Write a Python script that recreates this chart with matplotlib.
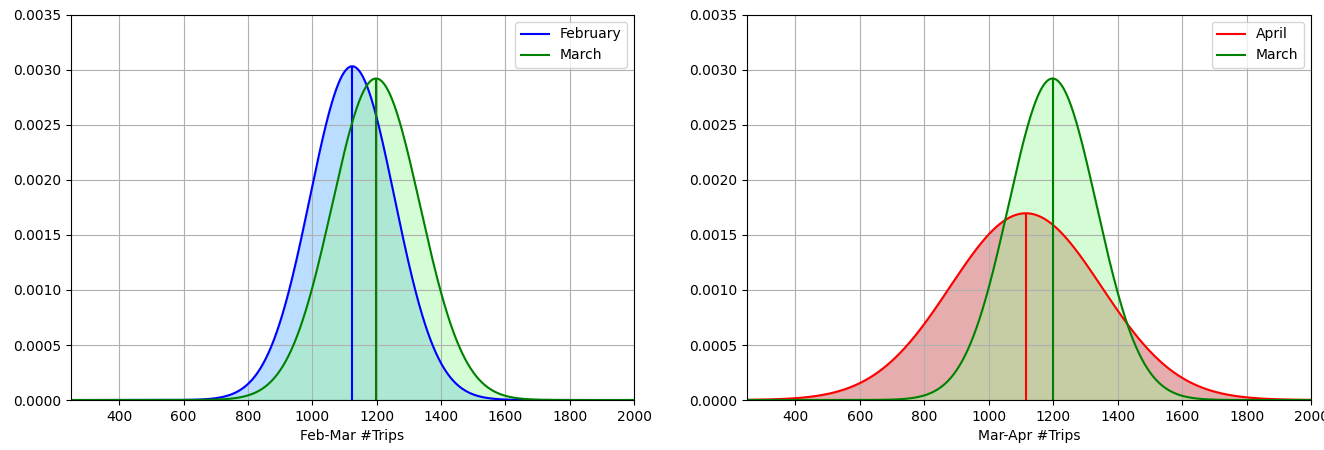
import numpy as np
import matplotlib.pyplot as plt

# estimated normal fits (mean, std) of trips per month
feb_mean, feb_std = 1124, 131.5
mar_mean, mar_std = 1198, 136.5
apr_mean, apr_std = 1115, 235.0

x_ticks = [400, 600, 800, 1000, 1200, 1400, 1600, 1800, 2000]
y_ticks = [0.0, 0.0005, 0.0010, 0.0015, 0.0020, 0.0025, 0.0030, 0.0035]


def pdf(x, mu, sd):
    return np.exp(-0.5 * ((x - mu) / sd) ** 2) / (sd * np.sqrt(2 * np.pi))


def draw(ax, first, second, xlabel):
    x = np.linspace(250, 2000, 1000)
    for mu, sd, label, col, fcol, alpha in (first, second):
        y = pdf(x, mu, sd)
        ax.plot(x, y, color=col, label=label)
        ax.fill_between(x, 0, y, color=fcol, alpha=alpha)
        ax.vlines(mu, 0, pdf(mu, mu, sd), color=col)
    ax.set_xlim(250, 2000)
    ax.set_ylim(0, 0.0035)
    ax.set_xticks(x_ticks)
    ax.set_yticks(y_ticks)
    ax.set_yticklabels(['%.4f' % v for v in y_ticks])
    ax.set_xlabel(xlabel)
    ax.grid(True)
    ax.legend(loc='upper right')


fig = plt.figure(figsize=(13.24, 4.5), dpi=100)
ax1 = fig.add_axes([0.0536, 0.1111, 0.4253, 0.8556])
ax2 = fig.add_axes([0.5642, 0.1111, 0.4260, 0.8556])

draw(ax1,
     (feb_mean, feb_std, 'February', 'blue', 'dodgerblue', 0.3),
     (mar_mean, mar_std, 'March', 'green', 'palegreen', 0.4),
     'Feb-Mar #Trips')
draw(ax2,
     (apr_mean, apr_std, 'April', 'red', 'indianred', 0.5),
     (mar_mean, mar_std, 'March', 'green', 'palegreen', 0.4),
     'Mar-Apr #Trips')

fig.savefig('out.png', dpi=100)
